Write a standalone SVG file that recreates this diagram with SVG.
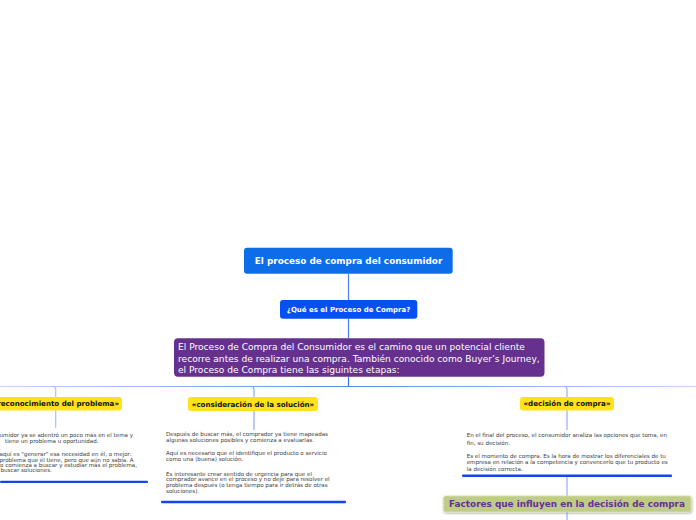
<svg xmlns="http://www.w3.org/2000/svg" width="696" height="520" viewBox="0 0 696 520">
<defs>
<linearGradient id="hg" gradientUnits="userSpaceOnUse" x1="0" y1="0" x2="696" y2="0">
<stop offset="0" stop-color="#c8d6fb"/>
<stop offset="0.5" stop-color="#5e88f2"/>
<stop offset="1" stop-color="#c8d6fb"/>
</linearGradient>
<filter id="sh" x="-5%" y="-30%" width="110%" height="170%">
<feDropShadow dx="0.5" dy="1" stdDeviation="0.8" flood-color="#000" flood-opacity="0.35"/>
</filter>
</defs>
<style>
.t{font-family:"DejaVu Sans",Verdana,sans-serif}
.b{font-weight:bold}
.w{fill:#ffffff}
.y{fill:#ffe21c}
.yt{font-family:"DejaVu Sans",Verdana,sans-serif;font-weight:bold;font-size:7.1px;fill:#111}
.p{font-family:"DejaVu Sans",Verdana,sans-serif;font-size:5.55px;fill:#3a3a3a}
.ul{fill:#1246f2}
.c{fill:none;stroke-width:1.2}
</style>
<g id="connectors">
<path class="c" stroke="#4d7ff0" d="M348.5 273.7V300"/>
<path class="c" stroke="#4d7ff0" d="M348.5 318.7V338"/>
<path class="c" stroke="#3f6ff0" stroke-width="1.6" d="M348.5 376.5V386.5"/>
<path class="c" stroke="url(#hg)" stroke-width="1.6" d="M0 386.5H696"/>
<path class="c" stroke="#a9c0f8" d="M52.7 386.5q3 0 3 3V428"/>
<path class="c" stroke="#89a8f5" d="M251 386.5q3 0 3 3V430"/>
<path class="c" stroke="#93b0f6" d="M564 386.5q3 0 3 3V430M567 477V496M567 512V520"/>
</g>
<g id="root">
<rect x="244" y="247.7" width="208.7" height="26" rx="3" fill="#0d6de8"/>
<text class="t b w" x="348.5" y="263.8" font-size="8.9" text-anchor="middle">El proceso de compra del consumidor</text>
</g>
<g id="que-es">
<rect x="280" y="300" width="137.3" height="18.7" rx="3" fill="#0650f3"/>
<text class="t b w" x="348.6" y="312.3" font-size="7" text-anchor="middle">¿Qué es el Proceso de Compra?</text>
</g>
<g id="definicion">
<rect x="174" y="338.3" width="370.5" height="38.4" rx="4" fill="#66308f"/>
<text class="t w" font-size="9.1" x="178" y="350">El Proceso de Compra del Consumidor es el camino que un potencial cliente</text>
<text class="t w" font-size="9.1" x="178" y="361.5">recorre antes de realizar una compra. También conocido como Buyer’s Journey,</text>
<text class="t w" font-size="9.1" x="178" y="373">el Proceso de Compra tiene las siguintes etapas:</text>
</g>
<g id="reconocimiento">
<rect class="y" x="-20" y="397" width="142" height="13.5" rx="3"/>
<text class="yt" x="119" y="406.3" text-anchor="end">«reconocimiento del problema»</text>
<text class="p" x="-0.5" y="437">umidor ya se adentró un poco más en el tema y</text>
<text class="p" x="5" y="443">tiene un problema u oportunidad.</text>
<text class="p" x="-0.5" y="456">aquí es "generar" esa necesidad en él, o mejor:</text>
<text class="p" x="-0.5" y="461.5">problema que él tiene, pero que aún no sabía. A</text>
<text class="p" x="0" y="466.5">o comienza a buscar y estudiar más el problema,</text>
<text class="p" x="0.5" y="471.5">buscar soluciones.</text>
<rect class="ul" x="0" y="480.7" width="148" height="2.2" rx="1"/>
</g>
<g id="consideracion">
<rect class="y" x="188" y="397" width="130" height="14" rx="3"/>
<text class="yt" x="253" y="406.5" text-anchor="middle">«consideración de la solución»</text>
<text class="p" x="166" y="436">Después de buscar más, el comprador ya tiene mapeadas</text>
<text class="p" x="166" y="442">algunas soluciones posibles y comienza a evaluarlas.</text>
<text class="p" x="166" y="455">Aquí es necesario que el identifique el producto o servicio</text>
<text class="p" x="166" y="461">como una (buena) solución.</text>
<text class="p" x="166" y="475.5">Es interesante crear sentido de urgencia para que el</text>
<text class="p" x="166" y="481.3">comprador avance en el proceso y no deje para resolver el</text>
<text class="p" x="166" y="487">problema después  (o tenga tiempo para ir detrás de otras</text>
<text class="p" x="166" y="492.7">soluciones).</text>
<rect class="ul" x="161" y="500.8" width="185" height="2.4" rx="1"/>
</g>
<g id="decision">
<rect class="y" x="520" y="397" width="94" height="13.5" rx="3"/>
<text class="yt" x="567" y="406.3" text-anchor="middle">«decisión de compra»</text>
<text class="p" x="466.7" y="436.5">En el final del proceso, el consumidor analiza las opciones que toma, en</text>
<text class="p" x="466.7" y="444.5">fin, su decisión.</text>
<text class="p" x="466.7" y="458">Es el momento de compra. Es la hora de mostrar los diferenciales de tu</text>
<text class="p" x="466.7" y="464">empresa en relación a la competencia y convencerlo que tu producto es</text>
<text class="p" x="466.7" y="471">la decisión correcta.</text>
<rect class="ul" x="462" y="474.6" width="210" height="2.4" rx="1"/>
</g>
<g id="factores">
<rect x="443.5" y="496" width="247.5" height="16" rx="2" fill="#bfcc84" stroke="#dbe3b0" stroke-width="0.8" filter="url(#sh)"/>
<text class="t b" x="567" y="507.4" font-size="8.9" fill="#66308f" text-anchor="middle">Factores que influyen en la decisión de compra</text>
</g>
</svg>
